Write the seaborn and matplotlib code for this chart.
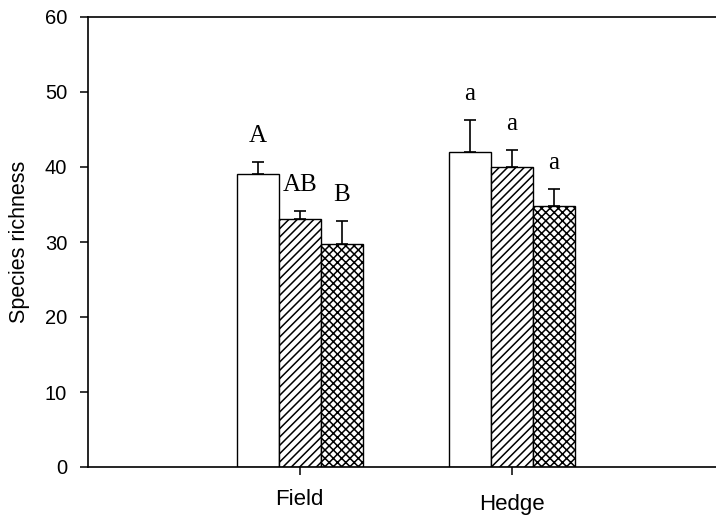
import matplotlib
matplotlib.use("Agg")
import matplotlib.pyplot as plt
import matplotlib.transforms as mtransforms
import seaborn as sns
import pandas as pd

habitats = ["Field", "Hedge"]
treatments = ["T1", "T2", "T3"]
means_field = [39.0, 33.0, 29.7]
means_hedge = [42.0, 40.0, 34.8]
se_field = [1.7, 1.1, 3.1]
se_hedge = [4.3, 2.3, 2.3]
letters_field = ["A", "AB", "B"]
letters_hedge = ["a", "a", "a"]
yticks = [0, 10, 20, 30, 40, 50, 60]

sns.set_theme(style="white")
plt.rcParams["font.family"] = ["Liberation Sans", "DejaVu Sans"]
plt.rcParams["hatch.linewidth"] = 1.1

rows = []
for h, means, ses in [("Field", means_field, se_field), ("Hedge", means_hedge, se_hedge)]:
    for t, m, s in zip(treatments, means, ses):
        rows.append({"habitat": h, "treatment": t, "richness": m, "se": s})
df = pd.DataFrame(rows)

fig = plt.figure(figsize=(7.16, 5.23), dpi=100)
ax = fig.add_axes([88 / 716, 56 / 523, 1 - 88 / 716, 450 / 523])

sns.barplot(data=df, x="habitat", y="richness", hue="treatment", order=habitats,
            hue_order=treatments, palette=["white"] * 3, edgecolor="black",
            linewidth=1.0, width=0.594, errorbar=None, legend=False, ax=ax,
            saturation=1)

hatches = ["", "////", "xxxx"]
letters = {"Field": letters_field, "Hedge": letters_hedge}
bar_containers = list(ax.containers)
for i, cont in enumerate(bar_containers):
    for j, bar in enumerate(cont.patches):
        bar.set_hatch(hatches[i])
        bar.set_facecolor("white")
        bar.set_edgecolor("black")
        bar.set_zorder(2)
        hab = habitats[j]
        se = df[(df.habitat == hab) & (df.treatment == treatments[i])]["se"].iloc[0]
        x = bar.get_x() + bar.get_width() / 2
        y = bar.get_height()
        ax.errorbar([x], [y], yerr=[[0], [se]], fmt="none", ecolor="black",
                    elinewidth=1.2, capsize=4.3, capthick=1.2, zorder=3)
        ax.text(x, y + se + 2.0, letters[hab][i], ha="center", va="bottom",
                fontsize=18, family=["Liberation Serif", "DejaVu Serif"], color="black")

ax.set_ylim(0, 60)
ax.set_xlim(-1.0, 1.965)
ax.set_yticks(yticks)
ax.set_yticklabels([str(v) for v in yticks])
ax.set_xlabel("")
ax.set_ylabel("Species richness", fontsize=15.5, color="black")
ax.yaxis.set_label_coords(-0.093, 0.5)
ax.tick_params(axis="y", direction="out", length=6, width=1.1, labelsize=14.5,
               left=True, pad=9, colors="black")
ax.tick_params(axis="x", direction="out", length=6, width=1.1, labelsize=16,
               bottom=True, pad=10, colors="black")
for sp in ["left", "bottom", "top"]:
    ax.spines[sp].set_visible(True)
    ax.spines[sp].set_color("black")
    ax.spines[sp].set_linewidth(1.2)
ax.spines["right"].set_visible(False)

lbls = ax.get_xticklabels()
off = mtransforms.ScaledTranslation(0, -5 / 100, fig.dpi_scale_trans)
lbls[1].set_transform(lbls[1].get_transform() + off)

fig.savefig("out.png", dpi=100, facecolor="white")
